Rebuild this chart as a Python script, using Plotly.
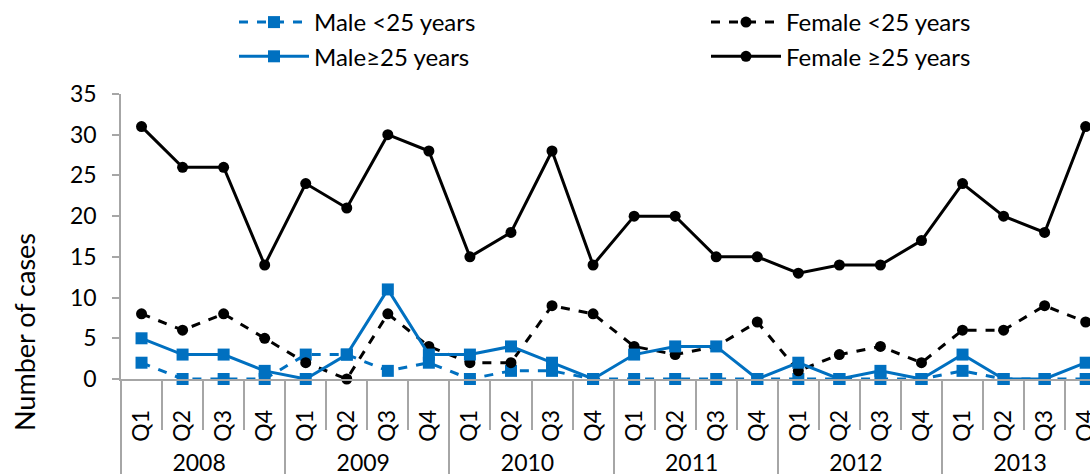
import plotly.graph_objects as go

years = ["2008", "2009", "2010", "2011", "2012", "2013"]
quarters = ["Q1", "Q2", "Q3", "Q4"]

male_lt25 = [2, 0, 0, 0, 3, 3, 1, 2, 0, 1, 1, 0, 0, 0, 0, 0, 0, 0, 0, 0, 1, 0, 0, 0]
female_lt25 = [8, 6, 8, 5, 2, 0, 8, 4, 2, 2, 9, 8, 4, 3, 4, 7, 1, 3, 4, 2, 6, 6, 9, 7]
male_ge25 = [5, 3, 3, 1, 0, 3, 11, 3, 3, 4, 2, 0, 3, 4, 4, 0, 2, 0, 1, 0, 3, 0, 0, 2]
female_ge25 = [31, 26, 26, 14, 24, 21, 30, 28, 15, 18, 28, 14, 20, 20, 15, 15, 13, 14, 14, 17, 24, 20, 18, 31]

y_ticks = [0, 5, 10, 15, 20, 25, 30, 35]

# a leading no-break space only pads the (rotated) label box so the year row sits lower
PAD = "\u00a0"
x_outer = [y for y in years for _ in quarters]
x_inner = [PAD + q for _ in years for q in quarters]
x = [x_outer, x_inner]

BLUE = "#0070C0"
BLACK = "#000000"
GRAY = "#A6A6A6"
FONT = "Lato"

fig = go.Figure()
fig.add_trace(go.Scatter(x=x, y=male_lt25, name="Male <25 years", mode="lines+markers",
                         line=dict(color=BLUE, width=3, dash="dash"), legend="legend",
                         marker=dict(symbol="square", size=12, color=BLUE), cliponaxis=False))
fig.add_trace(go.Scatter(x=x, y=female_lt25, name="Female <25 years", mode="lines+markers",
                         line=dict(color=BLACK, width=3, dash="dash"), legend="legend2",
                         marker=dict(symbol="circle", size=11, color=BLACK), cliponaxis=False))
fig.add_trace(go.Scatter(x=x, y=male_ge25, name="Male≥25 years", mode="lines+markers",
                         line=dict(color=BLUE, width=3), legend="legend",
                         marker=dict(symbol="square", size=12, color=BLUE), cliponaxis=False))
fig.add_trace(go.Scatter(x=x, y=female_ge25, name="Female ≥25 years", mode="lines+markers",
                         line=dict(color=BLACK, width=3), legend="legend2",
                         marker=dict(symbol="circle", size=11, color=BLACK), cliponaxis=False))

W, H = 1090, 474
L, T, B = 121, 94, 95
plot_w = W - L
cat_px = 41.05

legend_common = dict(orientation="v", xanchor="left", xref="paper",
                     y=1, yanchor="top", yref="container",
                     itemwidth=70, font=dict(size=24, family=FONT), tracegroupgap=0,
                     bgcolor="rgba(0,0,0,0)", traceorder="normal")

fig.update_layout(
    width=W, height=H,
    margin=dict(l=L, r=0, t=T, b=B, pad=0, autoexpand=False),
    paper_bgcolor="white", plot_bgcolor="white",
    font=dict(family=FONT, size=23, color="black"),
    showlegend=True,
    legend=dict(x=(234 - L) / plot_w, **legend_common),
    legend2=dict(x=(706 - L) / plot_w, **legend_common),
    xaxis=dict(type="multicategory", range=[-0.5, -0.5 + plot_w / cat_px], automargin=False,
               showline=True, linecolor=GRAY, linewidth=1.5,
               ticks="outside", ticklen=49, tickcolor=GRAY, tickwidth=1.5,
               tickangle=-90, showgrid=False, zeroline=False, ticklabelstandoff=20,
               showdividers=True, dividercolor=GRAY, dividerwidth=1.5,
               tickfont=dict(size=23, family=FONT)),
    yaxis=dict(range=[0, 35], tickvals=y_ticks, showline=True, linecolor=GRAY,
               linewidth=1.5, ticks="outside", ticklen=7, tickcolor=GRAY, automargin=False,
               tickwidth=1.5, showgrid=False, zeroline=False, ticklabelstandoff=11,
               tickfont=dict(size=23, family=FONT)),
)
fig.add_annotation(text="Number of cases", textangle=-90, xref="paper", yref="paper",
                   x=(24 - L) / plot_w, y=(379 - 332) / (379 - 94), xanchor="center",
                   yanchor="middle", showarrow=False, font=dict(size=27, family=FONT))

fig.write_html("out.html", post_script="document.body.style.margin='0';",
               config={"displayModeBar": False})
